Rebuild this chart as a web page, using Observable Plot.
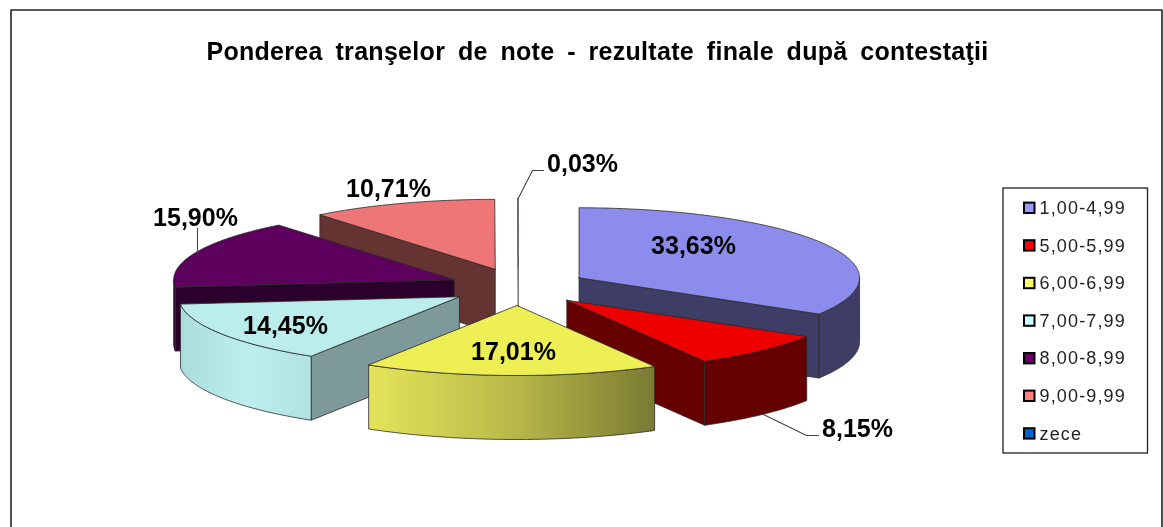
<!DOCTYPE html>
<html>
<head>
<meta charset="utf-8">
<script src="https://cdn.jsdelivr.net/npm/d3@7"></script>
<script src="https://cdn.jsdelivr.net/npm/@observablehq/plot@0.6"></script>
<style>
html,body{margin:0;padding:0;background:#fff;overflow:hidden}
svg{filter:blur(.35px)}
.ttl text{word-spacing:5.5px;letter-spacing:.3px}
.leg text{letter-spacing:1.15px}
</style>
</head>
<body>
<script>
// ---- data ----
const chartTitle = "Ponderea tranşelor de note - rezultate finale după contestaţii";
const categories = ["1,00-4,99","5,00-5,99","6,00-6,99","7,00-7,99","8,00-8,99","9,00-9,99","zece"];
const shares = [33.63, 8.15, 17.01, 14.45, 15.90, 10.71, 0.03];

// ---- styles ----
const legendColors = ["#9999FF","#FF0000","#FFFF66","#CCFFFF","#660066","#FF8080","#0066CC"];
const topColors    = ["#8C8CEC","#EE0000","#EEEE55","#BBEDED","#5E005E","#EE7676","#0060C0"];
const wallColors   = ["#3D3D66","#660000","url(#wallYellow)","url(#wallCyan)","#2C002C","#663333","#003366"];
const sideColors   = ["#3D3D66","#660000","#7D7D35","#7E9999","#2C002C","#663333","#003366"];
const edgeColors   = ["#2a2a2a","#2a2a2a","#2a2a2a","#2a2a2a","#2a2a2a","#2a2a2a","#666666"];

// ---- layout ----
const W = 1163, H = 527;
const cx = 517.9, cy = 286.4, rx = 280.5, ry = 70, depth = 64, explodeX = 69.6, explodeY = 18.6;
const frame = [[10.5,527],[10.5,9.5],[1161.5,9.5],[1161.5,527]];
const labelSpots = [[693,245],[857,428],[513,351],[285,325],[195,217],[388,188],[582,163]];
const leaders = [
  [[197,228],[197,252]],
  [[763,414],[806,435],[818,435]],
  [[517.7,198],[532,170],[543,170]]
];
const legendBox = {x1:1003, x2:1147.5, y1:188, y2:453};
const legendFirstY = 207.8, legendStep = 37.6;

// ---- pie geometry, derived from the shares ----
const arcs = d3.pie().sort(null).value(d => d)(shares);
const slices = arcs.map((a, i) => {
  const mid = (a.startAngle + a.endAngle) / 2;
  return {i, a0:a.startAngle, a1:a.endAngle,
    ax: cx + explodeX*Math.sin(mid), ay: cy - explodeY*Math.cos(mid)};
});
const rim = (s, t) => [s.ax + rx*Math.sin(t), s.ay - ry*Math.cos(t)];
const sweep = (a, b) => {
  const n = Math.max(2, Math.ceil((b-a)/0.01));
  return d3.range(n+1).map(k => a + (b-a)*k/n);
};
const face = (pts, fill, stroke) => Plot.line([...pts, pts[0]], {
  x:d=>d[0], y:d=>d[1], fill, stroke, strokeWidth:0.8, strokeLinejoin:"round", curve:"linear"
});
function sliceMarks(s){
  const out = [];
  const A = [s.ax, s.ay];
  const down = p => [p[0], p[1]+depth];
  const edge = edgeColors[s.i];
  if (Math.sin(s.a0) < 0) {
    const R = rim(s, s.a0);
    out.push(face([A, R, down(R), down(A)], sideColors[s.i], edge));
  }
  if (Math.sin(s.a1) > 0) {
    const R = rim(s, s.a1);
    out.push(face([A, R, down(R), down(A)], sideColors[s.i], edge));
  }
  const lo = Math.max(s.a0, Math.PI/2), hi = Math.min(s.a1, 3*Math.PI/2);
  if (hi > lo) {
    const top = sweep(lo, hi).map(t => rim(s, t));
    out.push(face([...top, ...top.slice().reverse().map(down)], wallColors[s.i], edge));
  }
  out.push(face([A, ...sweep(s.a0, s.a1).map(t => rim(s, t))], topColors[s.i], edge));
  return out;
}
const drawOrder = [6,5,0,4,1,3,2];

const defs = () => {
  const g = d3.create("svg:defs");
  const add = (id, stops) => {
    const lg = g.append("linearGradient").attr("id", id);
    stops.forEach(([o,c]) => lg.append("stop").attr("offset", o).attr("stop-color", c));
  };
  add("wallYellow", [[0,"#E4E45A"],[0.5,"#B9B94A"],[1,"#7A7A33"]]);
  add("wallCyan", [[0,"#ABDCDC"],[0.5,"#BDEFEF"],[1,"#B0E2E2"]]);
  return g.node();
};

const pct = v => d3.format(".2f")(v).replace(".", ",") + "%";
const font = "Liberation Sans, Arial, sans-serif";
const labelRows = shares.map((v,i) => ({text:pct(v), x:labelSpots[i][0], y:labelSpots[i][1]}));
const legendRows = categories.map((c,i) => ({c, color:legendColors[i], y:legendFirstY + i*legendStep}));

const chart = Plot.plot({
  width:W, height:H, margin:0,
  x:{axis:null, domain:[0,W], range:[0,W]},
  y:{axis:null, domain:[0,H], range:[0,H]},
  style:{background:"#fff"},
  marks:[
    defs,
    Plot.line(frame, {x:d=>d[0], y:d=>d[1], stroke:"#222", strokeWidth:1.6}),
    Plot.text([chartTitle], {x:597, y:51, text:d=>d, fontFamily:font, fontSize:25, fontWeight:"bold",
      fill:"#000", textAnchor:"middle", className:"ttl"}),
    ...drawOrder.flatMap(i => sliceMarks(slices[i])),
    ...leaders.map(l => Plot.line(l, {x:d=>d[0], y:d=>d[1], stroke:"#444", strokeWidth:1.1})),
    Plot.text(labelRows, {x:"x", y:"y", text:"text", fontFamily:font, fontSize:25, fontWeight:"bold",
      fill:"#000", textAnchor:"middle", className:"lab"}),
    Plot.rect([legendBox], {x1:"x1", x2:"x2", y1:"y1", y2:"y2", fill:"#fff", stroke:"#222", strokeWidth:1.3}),
    Plot.rect(legendRows, {x1:()=>1024, x2:()=>1034.5, y1:d=>d.y-5.2, y2:d=>d.y+5.2, fill:"color", stroke:"#000", strokeWidth:2}),
    Plot.text(legendRows, {x:()=>1039, y:"y", text:"c", fontFamily:font, fontSize:18, fill:"#222", textAnchor:"start", className:"leg"})
  ]
});
document.body.appendChild(chart);
</script>
</body>
</html>
